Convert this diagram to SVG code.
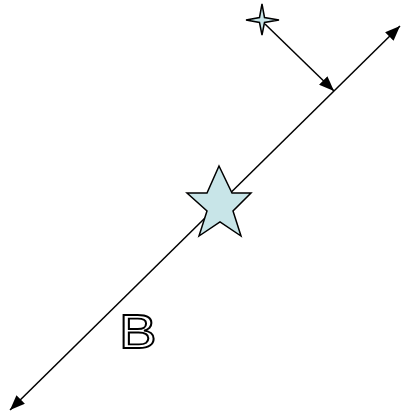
<svg xmlns="http://www.w3.org/2000/svg" width="402" height="418" viewBox="0 0 402 418">
<style>
.ln{stroke:#000;stroke-width:1.5;fill:none}
.shape{fill:#C8E5E8;stroke:#000;stroke-width:1.5;stroke-linejoin:miter}
.lbl{font-family:"Liberation Sans",Arial,sans-serif;font-size:49px;fill:#fff;stroke:#000;stroke-width:1.8}
</style>
<defs>
<marker id="ah2" viewBox="0 0 10 10" refX="10" refY="5" markerWidth="15" markerHeight="12" markerUnits="userSpaceOnUse" orient="auto-start-reverse" preserveAspectRatio="none">
<path d="M0,0 L10,5 L0,10 Z" fill="#000"/>
</marker>
</defs>
<g id="connectors">
<line class="ln" x1="10" y1="410" x2="400" y2="26" marker-start="url(#ah2)" marker-end="url(#ah2)"/>
<line class="ln" x1="265" y1="24" x2="334" y2="91" marker-end="url(#ah2)"/>
</g>
<g id="star5">
<polygon class="shape" points="219,166 232,193 251,193 233,211 241,236 220,222 199,236 207,211 187,193 207,193"/>
</g>
<g id="star4">
<polygon class="shape" points="262,4 264.5,17.5 279,20 264.5,22.5 262,35 259.5,22.5 246,20 259.5,17.5"/>
</g>
<g id="labelB">
<text class="lbl" transform="translate(119,348) scale(1.15,1)" x="0" y="0">B</text>
</g>
</svg>
